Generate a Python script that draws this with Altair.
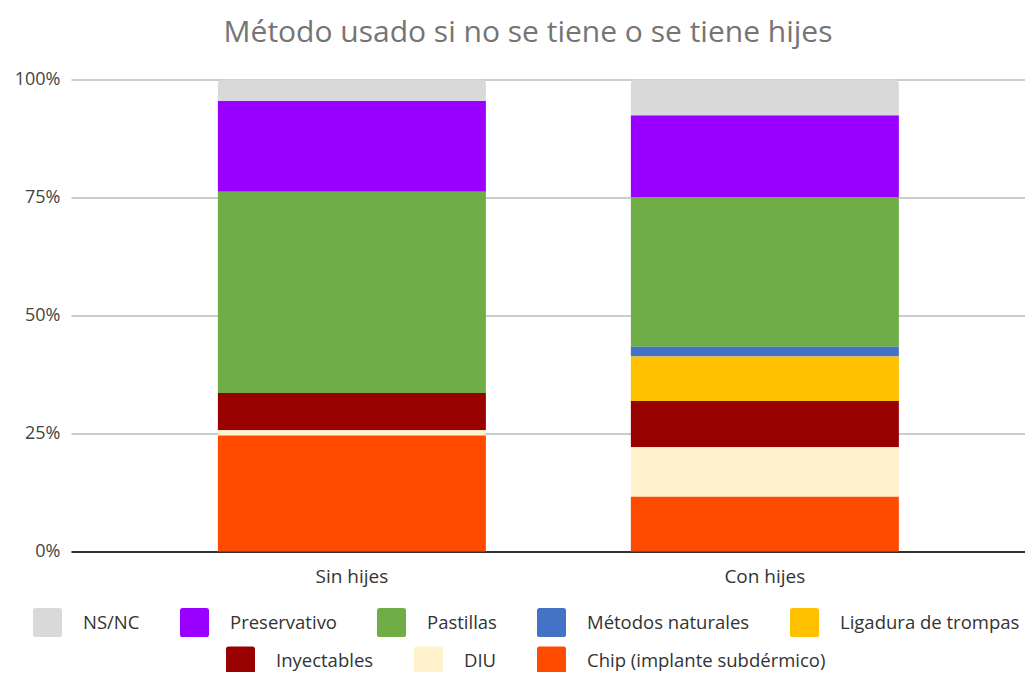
import altair as alt
import pandas as pd

# ---- data (percent of each group) ----
groups = ["Sin hijes", "Con hijes"]
methods = [
    "NS/NC",
    "Preservativo",
    "Pastillas",
    "Métodos naturales",
    "Ligadura de trompas",
    "Inyectables",
    "DIU",
    "Chip (implante subdérmico)",
]
colors = ["#d9d9d9", "#9900ff", "#70ad47", "#4472c4", "#ffc000", "#990000", "#fff2cc", "#ff4b00"]
sin_hijes = [4.5, 19.3, 42.6, 0.0, 0.0, 7.9, 1.1, 24.6]
con_hijes = [7.6, 17.3, 31.7, 2.1, 9.4, 9.8, 10.5, 11.6]
y_ticks = [0, 0.25, 0.5, 0.75, 1.0]
legend_row1 = methods[:5]
legend_row2 = methods[5:]

rows = []
for g, vals in zip(groups, [sin_hijes, con_hijes]):
    for i, (m, v) in enumerate(zip(methods, vals)):
        rows.append({"grupo": g, "metodo": m, "valor": v, "orden": len(methods) - 1 - i})
df = pd.DataFrame(rows)

ROUND_SQ = ("M -0.82 -1 L 0.82 -1 Q 1 -1 1 -0.82 L 1 0.82 Q 1 1 0.82 1 "
            "L -0.82 1 Q -1 1 -1 0.82 L -1 -0.82 Q -1 -1 -0.82 -1 Z")

FONT = "Open Sans"

x_enc = alt.X(
    "grupo:N",
    sort=groups,
    scale=alt.Scale(paddingInner=0.351, paddingOuter=0.3305, align=0.538),
    axis=alt.Axis(
        title=None, labelAngle=0, ticks=False, domain=True, domainColor="#333333",
        domainWidth=2, labelFont=FONT, labelFontSize=19, labelColor="#333333",
        labelPadding=16, grid=False,
    ),
)
y_enc = alt.Y(
    "y0:Q",
    scale=alt.Scale(domain=[0, 1], nice=False),
    axis=alt.Axis(
        title=None, format="%", values=y_ticks, ticks=False, domain=False,
        grid=True, gridColor="#cccccc", gridWidth=2, labelFont=FONT,
        labelFontSize=18, labelColor="#444444", labelPadding=11,
    ),
)


def legend(values, lx, ly, cols):
    return alt.Legend(
        values=values, orient="none", legendX=lx, legendY=ly, direction="horizontal",
        columns=cols, title=None, labelFont=FONT, labelFontSize=18.5, labelColor="#333333",
        labelOffset=21, columnPadding=40, symbolType=ROUND_SQ, symbolSize=841,
        symbolStrokeWidth=0, padding=0, labelLimit=400, symbolOpacity=1,
    )


color_scale = alt.Scale(domain=methods, range=colors)

base = alt.Chart().encode(x=x_enc, y=y_enc, y2="y1:Q")

layer_row2 = base.mark_bar(size=268).encode(
    color=alt.Color("metodo:N", scale=color_scale, legend=legend(legend_row2, 155, 567, 3))
).transform_filter(alt.FieldOneOfPredicate(field="metodo", oneOf=legend_row2))

layer_row1 = base.mark_bar(size=268).encode(
    color=alt.Color("metodo:N", scale=color_scale, legend=legend(legend_row1, -38, 528.5, 5))
).transform_filter(alt.FieldOneOfPredicate(field="metodo", oneOf=legend_row1[1:]))

layer_top = base.mark_bar(size=268, cornerRadiusTopLeft=4, cornerRadiusTopRight=4).encode(
    color=alt.Color("metodo:N", scale=color_scale, legend=None)
).transform_filter(alt.FieldEqualPredicate(field="metodo", equal="NS/NC"))

chart = (
    alt.layer(layer_row2, layer_row1, layer_top, data=df)
    .transform_stack(
        stack="valor", as_=["y0", "y1"], groupby=["grupo"],
        sort=[alt.SortField("orden", order="ascending")], offset="normalize",
    )
    .resolve_scale(color="independent")
    .properties(
        width=954, height=472,
        title=alt.TitleParams(
            text="Método usado si no se tiene o se tiene hijes", font=FONT, fontSize=30,
            fontWeight="normal", color="#757575", anchor="middle", frame="group",
            baseline="alphabetic", offset=-1, dx=-20,
        ),
        autosize=alt.AutoSizeParams(type="none"),
        padding={"left": 63, "top": 71.5, "right": 0, "bottom": 120},
        background="white",
    )
    .configure_view(stroke=None)
)

chart.save("out.html", embed_options={"renderer": "svg", "actions": False})
